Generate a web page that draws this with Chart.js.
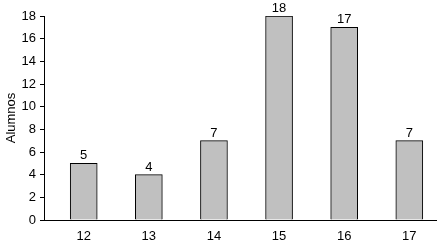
<!DOCTYPE html>
<html><head><meta charset="utf-8">
<script src="https://cdn.jsdelivr.net/npm/chart.js@4/dist/chart.umd.min.js"></script>
<style>html,body{margin:0;padding:0;background:#fff}#wrap{width:440px;height:245px}</style>
</head><body><div id="wrap"><canvas id="c" width="440" height="245"></canvas></div>
<script>
const categories = [12, 13, 14, 15, 16, 17];
const alumnos = [5, 4, 7, 18, 17, 7];
const yTicks = [0, 2, 4, 6, 8, 10, 12, 14, 16, 18];
const yTitle = 'Alumnos';

const FONT = {family: '"Liberation Sans", Arial, sans-serif', size: 13};

const valueLabels = {
  id: 'valueLabels',
  afterDatasetsDraw(chart) {
    const ctx = chart.ctx;
    const meta = chart.getDatasetMeta(0);
    ctx.save();
    ctx.font = FONT.size + 'px ' + FONT.family;
    ctx.fillStyle = '#000';
    ctx.textAlign = 'center';
    ctx.textBaseline = 'alphabetic';
    meta.data.forEach((el, i) => {
      ctx.fillText(String(alumnos[i]), el.x, el.y - 4);
    });
    ctx.restore();
  }
};

new Chart(document.getElementById('c'), {
  type: 'bar',
  data: {
    datasets: [{
      data: categories.map((c, i) => ({x: c, y: alumnos[i]})),
      backgroundColor: '#c0c0c0',
      borderColor: '#000',
      borderWidth: 1,
      barThickness: 27
    }]
  },
  plugins: [valueLabels],
  options: {
    responsive: false,
    animation: false,
    layout: {padding: {top: 16, right: 4, left: 0, bottom: 0}},
    plugins: {legend: {display: false}, tooltip: {enabled: false}},
    scales: {
      x: {
        type: 'linear',
        offset: false,
        min: 11.39, max: 17.41,
        afterBuildTicks(s) { s.ticks = categories.map(v => ({value: v})); },
        afterFit(s) { s.height = 25; },
        grid: {display: true, drawOnChartArea: false, drawTicks: false, color: '#000'},
        border: {display: true, color: '#000', width: 1},
        ticks: {color: '#000', font: FONT, padding: 9, autoSkip: false}
      },
      y: {
        min: 0, max: 18,
        afterBuildTicks(s) { s.ticks = yTicks.map(v => ({value: v})); },
        afterFit(s) { s.width = 44; },
        grid: {drawOnChartArea: false, drawTicks: true, tickLength: 4, color: '#000'},
        border: {display: true, color: '#000', width: 1},
        ticks: {color: '#000', font: FONT, padding: 4},
        title: {display: true, text: yTitle, color: '#000', font: FONT, padding: {top: 4, bottom: 0}}
      }
    }
  }
});
</script></body></html>
